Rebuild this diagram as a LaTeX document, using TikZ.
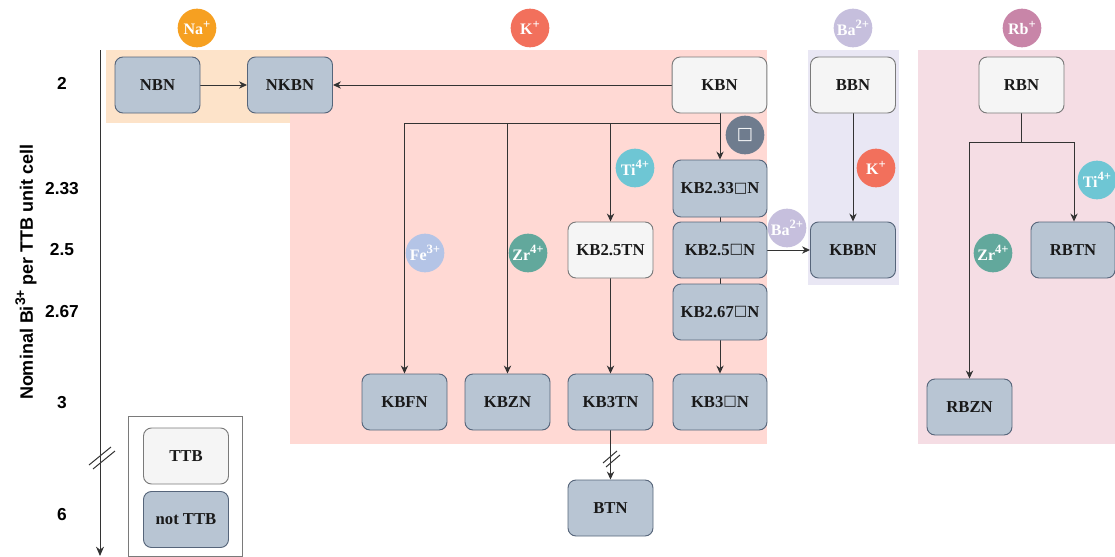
\documentclass[tikz,border=0pt]{standalone}
\usepackage{fontspec}
\setmainfont{Liberation Serif}
\newfontfamily\axisfont{Liberation Sans}
\newfontfamily\symfont{DejaVu Sans}
\usetikzlibrary{arrows.meta,calc}
\pgfdeclarelayer{bg}
\pgfdeclarelayer{edges}
\pgfsetlayers{bg,edges,main}
\newcommand{\vac}{{\symfont\raisebox{0.1em}{\scalebox{0.86}{□}}}}
\newcommand{\isup}[1]{\raisebox{0.42em}{\fontsize{9.5}{10}\selectfont #1}}
\definecolor{nodefill}{HTML}{B8C5D3}
\definecolor{nodeedge}{HTML}{56657A}
\definecolor{ttbfill}{HTML}{F5F5F5}
\definecolor{ttbedge}{HTML}{7A7A7A}
\definecolor{bgNa}{HTML}{FDE3C9}
\definecolor{bgK}{HTML}{FFD9D4}
\definecolor{bgBa}{HTML}{E9E7F4}
\definecolor{bgRb}{HTML}{F5DDE4}
\definecolor{cNa}{HTML}{F6A021}
\definecolor{cK}{HTML}{F2705C}
\definecolor{cBa}{HTML}{C6BFDD}
\definecolor{cRb}{HTML}{C885A8}
\definecolor{cTi}{HTML}{6EC6D4}
\definecolor{cFe}{HTML}{B4C4E6}
\definecolor{cZr}{HTML}{62A89C}
\definecolor{cVac}{HTML}{6F7C8E}
\definecolor{lineC}{HTML}{333333}
\tikzset{
  nb/.style={draw=nodeedge, fill=nodefill, rounded corners=6pt, line width=0.7pt,
    minimum width=63.75pt, minimum height=42pt, inner sep=1pt, font=\bfseries\fontsize{12.5}{14}\selectfont, text=black!90},
  wide/.style={minimum width=70.5pt},
  ttb/.style={nb, draw=ttbedge, fill=ttbfill},
  ion/.style={circle, minimum size=29pt, inner sep=0pt, text=white, font=\bfseries\fontsize{12}{14}\selectfont},
  conn/.style={draw=lineC, line width=0.75pt},
  arr/.style={conn, -{Stealth[length=6pt,width=5.5pt]}},
  axlab/.style={font=\axisfont\bfseries\fontsize{13}{15}\selectfont, text=black},
}
\begin{document}
\begin{tikzpicture}[x=0.75pt,y=-0.75pt]
\useasboundingbox (0,0) rectangle (1115,557);

% background regions
\begin{pgfonlayer}{bg}
  \fill[bgK] (290,50) rectangle (767,444);
  \fill[bgNa] (106,50) rectangle (290,123);
  \fill[bgBa] (808,50) rectangle (899,285);
  \fill[bgRb] (918,50) rectangle (1115,444);
\end{pgfonlayer}

% axis
\coordinate (axtop) at (100,50);
\coordinate (axbot) at (100,556);
\draw[conn, -{Stealth[length=7pt,width=6pt]}] (axtop) -- (axbot);
\draw[conn] (89,465) -- (111,447);
\draw[conn] (93,469) -- (115,451);
\node[axlab] (l2) at (62,83) {2};
\node[axlab] (l233) at (62,189) {2.33};
\node[axlab] (l25) at (62,250) {2.5};
\node[axlab] (l267) at (62,312) {2.67};
\node[axlab] (l3) at (62,403) {3};
\node[axlab] (l6) at (62,515) {6};
\node[axlab, rotate=90, font=\axisfont\bfseries\fontsize{13.5}{15}\selectfont] (axtitle) at (26,272) {Nominal Bi\raisebox{0.42em}{\fontsize{10.5}{11}\selectfont 3+} per TTB unit cell};

% nodes
\node[nb] (NBN) at (157.5,85) {NBN};
\node[nb] (NKBN) at (290,85) {NKBN};
\node[ttb, minimum width=71pt] (KBN) at (719.5,85) {KBN};
\node[ttb] (BBN) at (853,85) {BBN};
\node[ttb] (RBN) at (1021.5,85) {RBN};
\node[nb, wide, minimum height=42.75pt] (KB233) at (720,188.5) {KB2.33\vac N};
\node[nb, wide] (KB25) at (720,250) {KB2.5\vac N};
\node[nb, wide] (KB267) at (720,312) {KB2.67\vac N};
\node[ttb] (KB25TN) at (610.5,250) {KB2.5TN};
\node[nb] (KBBN) at (853,250) {KBBN};
\node[nb, minimum width=63pt] (RBTN) at (1073,250) {RBTN};
\node[nb] (KBFN) at (404.5,402) {KBFN};
\node[nb] (KBZN) at (507.5,402) {KBZN};
\node[nb] (KB3TN) at (610.5,402) {KB3TN};
\node[nb, wide] (KB3N) at (720,402) {KB3\vac N};
\node[nb] (RBZN) at (969.5,407) {RBZN};
\node[nb] (BTN) at (610.5,508) {BTN};

% legend
\node[draw=ttbedge, line width=0.6pt, minimum width=85.5pt, minimum height=105pt, inner sep=0pt] (legend) at (185.5,486.5) {};
\node[ttb] (legTTB) at (186,456) {TTB};
\node[nb] (legNot) at (186,519.5) {not TTB};

% connectors
\coordinate (kbj) at (720,123);
\coordinate (kbL) at (404.5,123);
\coordinate (rbj) at (1021.5,142);
\coordinate (rbL) at (969.5,142);
\coordinate (rbR) at (1074,142);
\begin{pgfonlayer}{edges}
  \draw[arr] (NBN) -- (NKBN);
  \draw[arr] (KBN) -- (NKBN);
  \draw[conn] (KBN.south -| kbj) -- (kbj);
  \draw[conn] (kbj) -- (kbL);
  \draw[arr] (kbL) -- (KBFN.north);
  \draw[arr] (KBZN.north |- kbj) -- (KBZN.north);
  \draw[arr] (KB25TN.north |- kbj) -- (KB25TN.north);
  \draw[arr] (kbj) -- (KB233.north);
  \draw[conn] (KB233) -- (KB25);
  \draw[conn] (KB25) -- (KB267);
  \draw[arr] (KB267) -- (KB3N);
  \draw[arr] (KB25TN) -- (KB3TN);
  \draw[arr] (KB3TN) -- (BTN);
  \draw[arr] (KB25) -- (KBBN);
  \draw[arr] (BBN) -- (KBBN);
  \draw[conn] (RBN.south) -- (rbj);
  \draw[conn] (rbL) -- (rbR);
  \draw[arr] (rbL) -- (RBZN.north -| rbL);
  \draw[arr] (rbR) -- (RBTN.north -| rbR);
\end{pgfonlayer}
% break marks on KB3TN -> BTN
\draw[conn] (603,463) -- (617,451);
\draw[conn] (606,467) -- (620,455);

% ion circles
\node[ion, fill=cNa] (iNa) at (197,28) {Na\isup{+}};
\node[ion, fill=cK] (iK) at (530,28) {K\isup{+}};
\node[ion, fill=cBa] (iBa) at (853,28) {Ba\isup{2+}};
\node[ion, fill=cRb] (iRb) at (1022,28) {Rb\isup{+}};
\node[ion, fill=cVac, font=\fontsize{15}{16}\selectfont] (iVac) at (745,135) {\vac};
\node[ion, fill=cTi] (iTi1) at (635,168) {Ti\isup{4+}};
\node[ion, fill=cFe] (iFe) at (425,253) {Fe\isup{3+}};
\node[ion, fill=cZr] (iZr1) at (528,253) {Zr\isup{4+}};
\begin{pgfonlayer}{edges}
\node[ion, fill=cBa] (iBa2) at (787,228) {Ba\isup{2+}};
\end{pgfonlayer}
\node[ion, fill=cK] (iK2) at (876,168) {K\isup{+}};
\node[ion, fill=cTi] (iTi2) at (1097,180) {Ti\isup{4+}};
\node[ion, fill=cZr] (iZr2) at (993,253) {Zr\isup{4+}};
\end{tikzpicture}
\end{document}
